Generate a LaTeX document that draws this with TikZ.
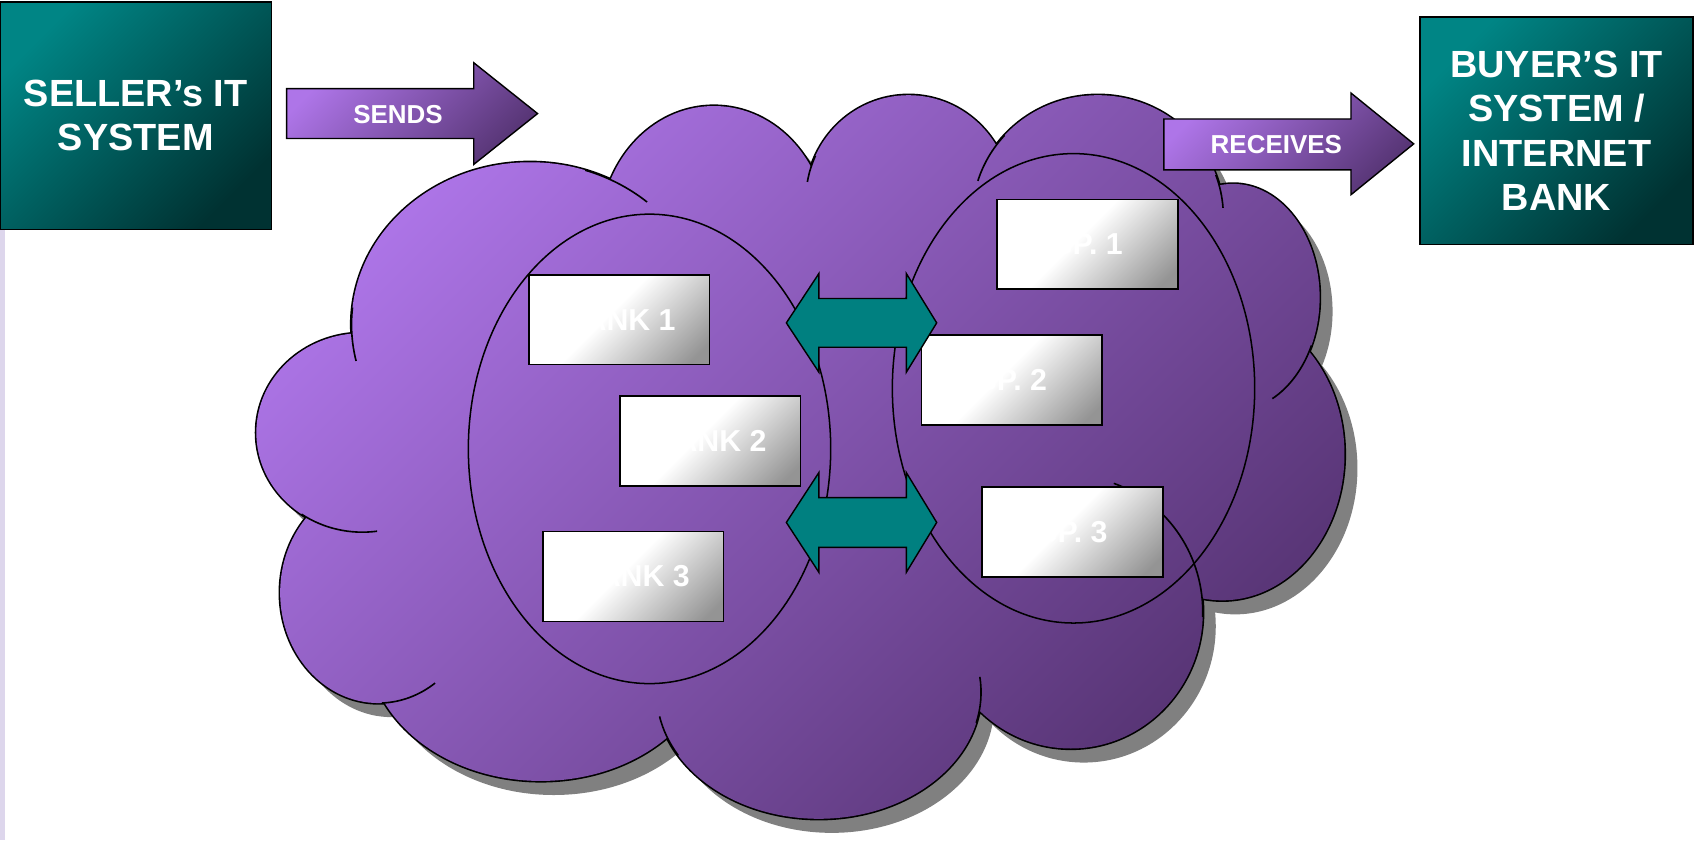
\documentclass[tikz,border=0pt]{standalone}
\usepackage{fontspec}
\setmainfont{Liberation Sans}
\pgfdeclarehorizontalshading{glossy}{100bp}{color(0bp)=(white); color(46bp)=(white); color(80bp)=(black!42); color(100bp)=(black!42)}
\definecolor{cloudlight}{HTML}{AC74E6}
\definecolor{clouddark}{HTML}{573474}
\definecolor{teallight}{HTML}{008585}
\definecolor{tealdark}{HTML}{003232}
\definecolor{tealflat}{HTML}{008080}
\definecolor{arrowlight}{HTML}{AE75E8}
\definecolor{arrowdark}{HTML}{573575}
\definecolor{shadowgray}{HTML}{808080}
\definecolor{lavstrip}{HTML}{DDD6EC}
\def\CloudPath{(490,300) -- (335,400) -- (350,548) -- (500,595) -- (757,640) -- (990,566) -- (1130,420) -- (1140,275) -- (1015,200) -- (840,185) -- (660,215) -- cycle
 (490,300) ellipse [x radius=165pt, y radius=150pt]
 (660,215) ellipse [x radius=105pt, y radius=117pt]
 (840,185) ellipse [x radius=95pt, y radius=97pt]
 (1015,200) ellipse [x radius=116pt, y radius=112pt]
 (1140,275) ellipse [x radius=80pt, y radius=105pt]
 (1130,420) ellipse [x radius=113pt, y radius=135pt]
 (990,566) ellipse [x radius=122pt, y radius=126pt]
 (757,640) ellipse [x radius=150pt, y radius=117pt]
 (500,595) ellipse [x radius=160pt, y radius=127pt]
 (350,548) ellipse [x radius=91pt, y radius=102pt]
 (335,400) ellipse [x radius=98pt, y radius=92pt]}
\newcommand\cloudhook[5]{\draw[cloudline] (#1) ++(#4:#2 and #3) arc[start angle=#4, end angle=#5, x radius=#2, y radius=#3];}
\tikzset{
  cloudline/.style={draw=black, line width=1.5pt},
  grpline/.style={draw=black, line width=1.4pt},
  tealbox/.style={shade, draw=black, line width=1.5pt, top color=teallight, bottom color=tealdark, shading angle=45,
    inner sep=0pt, text=white, align=center, font=\bfseries\fontsize{35}{41}\selectfont},
  wbox/.style={shade, shading=glossy, shading angle=-45, draw=black, line width=1.6pt,
    minimum width=167pt, minimum height=83pt, inner sep=0pt, text=white, font=\bfseries\fontsize{28}{34}\selectfont},
  arrowtext/.style={inner sep=0pt, text=white, font=\bfseries\fontsize{24}{28}\selectfont},
  blockarrow/.style={draw=black, line width=1.3pt, top color=arrowlight, bottom color=arrowdark, shading angle=45},
  dblarrow/.style={draw=black, line width=1.3pt, fill=tealflat}
}
\begin{document}
\begin{tikzpicture}[x=1pt, y=-1pt, line join=miter]
\useasboundingbox (0,0) rectangle (1568,777);
\fill[white] (0,0) rectangle (1568,777);
\fill[lavstrip] (0,212) rectangle (5,777);

% cloud
\fill[shadowgray, shift={(12,13)}] \CloudPath;
\draw[line width=3pt] \CloudPath;
\shade[top color=cloudlight, bottom color=clouddark, shading angle=45] \CloudPath;
\cloudhook{490,300}{165}{150}{186}{167}
\cloudhook{490,300}{165}{150}{-72}{-49}
\cloudhook{840,185}{95}{97}{205}{190}
\cloudhook{1015,200}{116}{112}{222}{197}
\cloudhook{1015,200}{116}{112}{-20}{-4}
\cloudhook{1140,275}{80}{105}{25}{63}
\cloudhook{990,566}{122}{126}{2}{-71}
\cloudhook{757,640}{150}{117}{14}{-7}
\cloudhook{757,640}{150}{117}{150}{169}
\cloudhook{350,548}{91}{102}{88}{55}
\cloudhook{335,400}{98}{92}{125}{82}

% groups
\draw[grpline] (600.5,415) ellipse [x radius=167.5pt, y radius=217pt];
\draw[grpline] (992.5,359) ellipse [x radius=167.5pt, y radius=217pt];

% boxes
\node[wbox] (bank1) at (572.5,295.5) {BANK 1};
\node[wbox] (bank2) at (656.5,407.5) {BANK 2};
\node[wbox] (bank3) at (585.5,533) {BANK 3};
\node[wbox] (sp1) at (1005.5,226) {SP. 1};
\node[wbox] (sp2) at (935.5,351.5) {SP. 2};
\node[wbox] (sp3) at (991.5,492) {SP. 3};

% double arrows
\path[dblarrow] (727,298.5) -- (757,253) -- (757,276) -- (838,276) -- (838,253) -- (866,298.5) -- (838,344) -- (838,321) -- (757,321) -- (757,344) -- cycle;
\path[dblarrow] (727,483) -- (757,437) -- (757,460) -- (838,460) -- (838,437) -- (866,483) -- (838,529) -- (838,506) -- (757,506) -- (757,529) -- cycle;

% seller / buyer
\node[tealbox, minimum width=251pt, minimum height=210pt] (seller) at (125.5,107) {SELLER’s IT\\SYSTEM};
\node[tealbox, minimum width=252pt, minimum height=210pt] (buyer) at (1439,121) {BUYER’S IT\\SYSTEM /\\INTERNET\\BANK};

% block arrows
\shadedraw[blockarrow] (265,82) -- (438,82) -- (438,58) -- (497,105) -- (438,152) -- (438,128) -- (265,128) -- cycle;
\node[arrowtext] (sends) at (368,106) {SENDS};
\shadedraw[blockarrow] (1076,110) -- (1249,110) -- (1249,86) -- (1307,133) -- (1249,180) -- (1249,157) -- (1076,157) -- cycle;
\node[arrowtext] (receives) at (1180,134) {RECEIVES};
\end{tikzpicture}
\end{document}
